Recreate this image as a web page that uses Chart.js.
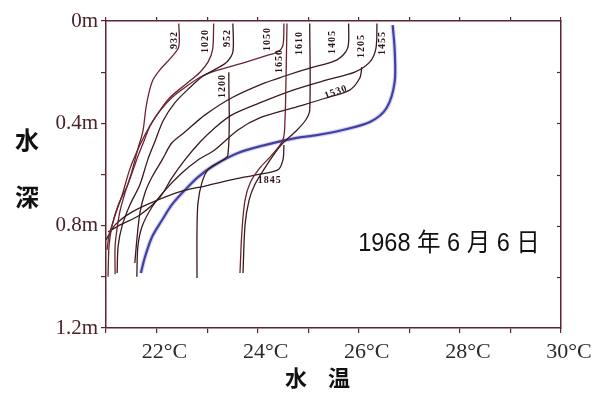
<!DOCTYPE html>
<html lang="ja">
<head>
<meta charset="UTF-8">
<script src="https://cdn.jsdelivr.net/npm/chart.js"></script>
<title>水温</title>
<style>body{margin:0;background:#fff}</style>
</head>
<body>
<canvas id="suion" width="600" height="416"></canvas>
<script>
// 1968年6月6日 各時刻の水温(℃)と水深(m)
const t0932 = [22.44,22.44,22.30,22.07,21.93,21.85,21.79,21.73,21.63,21.51,21.38,21.28,21.22,21.18,21.18];
const d0932 = [0.01,0.10,0.14,0.19,0.23,0.28,0.34,0.43,0.50,0.59,0.67,0.74,0.81,0.88,0.99];
const t1020 = [23.13,23.11,23.02,22.86,22.56,22.26,22.03,21.87,21.75,21.61,21.43,21.24,21.12,21.06,21.04];
const d1020 = [0.01,0.11,0.16,0.20,0.25,0.30,0.36,0.41,0.47,0.54,0.64,0.72,0.80,0.88,1.00];
const t0952 = [23.51,23.51,23.39,23.15,22.92,22.66,22.36,22.13,21.97,21.83,21.67,21.47,21.32,21.24,21.22];
const d0952 = [0.01,0.12,0.16,0.19,0.215,0.26,0.32,0.39,0.47,0.54,0.64,0.72,0.80,0.88,0.985];
const t1050 = [24.52,24.50,24.40,24.14,23.61,23.09,22.86,22.56,22.30,22.07,21.87,21.67,21.47,21.32,21.18,21.06,21.02];
const d1050 = [0.01,0.094,0.12,0.137,0.17,0.20,0.22,0.26,0.30,0.35,0.41,0.485,0.58,0.68,0.76,0.84,0.895];
const t1200 = [23.43,23.41,23.21,23.02,22.90,22.82,22.80,22.80];
const d1200 = [0.20,0.524,0.555,0.58,0.63,0.71,0.82,1.005];
const t1650 = [24.58,24.56,24.54,24.50,24.28,24.04,23.85,23.75,23.69,23.65];
const d1650 = [0.01,0.23,0.39,0.465,0.524,0.575,0.633,0.70,0.817,0.985];
const t1610 = [25.03,25.03,24.95,24.76,24.50,24.34,24.14,23.94,23.83,23.75,23.71];
const d1610 = [0.01,0.348,0.387,0.43,0.477,0.516,0.575,0.641,0.70,0.797,0.985];
const t1405 = [25.80,25.78,25.57,25.03,24.54,24.14,23.49,22.96,22.56,22.30,22.11,21.91,21.77,21.67,21.61,21.57];
const d1405 = [0.01,0.106,0.152,0.184,0.215,0.242,0.30,0.367,0.434,0.477,0.543,0.61,0.672,0.751,0.856,0.946];
const t1205 = [26.36,26.34,26.22,25.92,25.37,24.70,24.04,23.49,23.15,22.86,22.56,22.30,22.07,21.67,21.28,21.04];
const d1205 = [0.01,0.106,0.16,0.20,0.23,0.27,0.32,0.367,0.418,0.473,0.543,0.614,0.688,0.758,0.797,0.825];
const t1530 = [26.06,26.02,25.82,25.37,24.70,24.04,23.61,23.15,22.82,22.50,22.17,21.91,21.71,21.63,21.61];
const d1530 = [0.18,0.223,0.27,0.30,0.34,0.379,0.426,0.504,0.543,0.594,0.661,0.727,0.805,0.883,1.00];
const t1845 = [24.52,24.50,24.40,23.94,23.45,22.96,22.50,21.97,21.51,21.18,21.00];
const d1845 = [0.485,0.543,0.582,0.602,0.622,0.645,0.665,0.704,0.747,0.797,0.856];
const t1455 = [26.67,26.71,26.71,26.55,26.22,25.68,25.17,24.77,24.14,23.61,23.15,22.82,22.56,22.30,22.11,21.91,21.77,21.69];
const d1455 = [0.016,0.113,0.238,0.340,0.395,0.426,0.446,0.457,0.485,0.516,0.563,0.610,0.661,0.719,0.778,0.844,0.923,0.985];

// 曲線に添える時刻ラベル
const jikan  = ['932','1020','952','1050','1650','1610','1405','1205','1455','1200','1530','1845'];
const labelT = [22.36,22.96,23.41,24.20,24.44,24.83,25.47,26.06,26.47,23.31,25.55,24.24];
const labelD = [0.074,0.078,0.066,0.07,0.156,0.086,0.082,0.098,0.086,0.254,0.278,0.622];
const labelRot = [-90,-90,-90,-90,-90,-90,-90,-90,-90,-90,-20,0];

const jikuIro = '#5a2630';
const senIro = '#3a1a1e';
const akaIro = '#6a2430';

function pts(t, d) {
    return t.map((v, i) => ({x: v, y: d[i]}));
}
function sen(name, t, d, color, w) {
    return {label: name, data: pts(t, d), borderColor: color, borderWidth: w || 1.3,
            pointRadius: 0, tension: 0.3, fill: false};
}

const datasets = [
    sen('932', t0932, d0932, akaIro),
    sen('1020', t1020, d1020, akaIro),
    sen('952', t0952, d0952, senIro),
    sen('1050', t1050, d1050, akaIro),
    sen('1200', t1200, d1200, senIro),
    sen('1650', t1650, d1650, akaIro),
    sen('1610', t1610, d1610, senIro),
    sen('1405', t1405, d1405, senIro),
    sen('1205', t1205, d1205, senIro),
    sen('1530', t1530, d1530, senIro),
    sen('1845', t1845, d1845, senIro),
    sen('1455 halo', t1455, d1455, 'rgba(120,120,220,0.3)', 4.5),
    sen('1455', t1455, d1455, '#2c2a88', 2.2)
];

const kakikomi = {
    id: 'kakikomi',
    afterDraw(chart) {
        const {ctx, scales: {x, y}, chartArea: a} = chart;
        ctx.save();
        // 右軸の内向き目盛り
        ctx.strokeStyle = jikuIro;
        ctx.lineWidth = 1.2;
        for (let v = 0.2; v < 1.2; v += 0.2) {
            const py = Math.round(y.getPixelForValue(v)) + 0.5;
            ctx.beginPath();
            ctx.moveTo(a.right, py);
            ctx.lineTo(a.right - 4, py);
            ctx.stroke();
        }
        // 時刻ラベル
        ctx.fillStyle = '#2a1418';
        ctx.font = 'bold 10px "Liberation Serif"';
        ctx.letterSpacing = '1px';
        ctx.textAlign = 'center';
        ctx.textBaseline = 'middle';
        jikan.forEach((s, i) => {
            ctx.save();
            ctx.translate(x.getPixelForValue(labelT[i]), y.getPixelForValue(labelD[i]));
            ctx.rotate(labelRot[i] * Math.PI / 180);
            ctx.fillText(s, 0, 0);
            ctx.restore();
        });
        ctx.letterSpacing = '0px';
        // 軸タイトル
        ctx.fillStyle = '#111';
        ctx.font = 'bold 24px "Noto Sans CJK JP"';
        ctx.fillText('水', 27, 140);
        ctx.fillText('深', 27, 197);
        ctx.font = 'bold 22px "Noto Sans CJK JP"';
        ctx.fillText('水', 296, 378);
        ctx.fillText('温', 339, 378);
        // 日付
        ctx.translate(449, 244);
        ctx.scale(0.94, 1);
        ctx.font = '25px "Liberation Sans", "Noto Sans CJK JP"';
        ctx.fillText('1968 年 6 月 6 日', 0, 0);
        ctx.restore();
    }
};

new Chart(document.getElementById('suion'), {
    type: 'line',
    data: {datasets: datasets},
    options: {
        responsive: false,
        animation: false,
        events: [],
        layout: {padding: 0},
        plugins: {legend: {display: false}, tooltip: {enabled: false}},
        scales: {
            x: {
                type: 'linear', position: 'bottom', min: 21, max: 30,
                afterFit: s => { s.height = 88; },
                ticks: {
                    stepSize: 1, autoSkip: false, maxRotation: 0, labelOffset: 8, padding: 6,
                    color: '#2a2a2a', font: {family: 'Liberation Serif', size: 22},
                    callback: v => (v % 2 === 0 && v > 21) ? v + '°C' : ''
                },
                grid: {drawOnChartArea: false, tickLength: 5, color: jikuIro, lineWidth: 1.2},
                border: {color: jikuIro, width: 1.5}
            },
            x2: {
                type: 'linear', position: 'top', min: 21, max: 30,
                afterFit: s => { s.height = 21; },
                ticks: {stepSize: 1, display: false},
                grid: {drawOnChartArea: false, tickLength: 4, color: jikuIro, lineWidth: 1.2},
                border: {color: jikuIro, width: 1.5}
            },
            y: {
                type: 'linear', position: 'left', min: 0, max: 1.2, reverse: true,
                afterFit: s => { s.width = 106; },
                ticks: {
                    stepSize: 0.2, autoSkip: false, padding: 3,
                    color: '#4a2228', font: {family: 'Liberation Serif', size: 21},
                    callback: v => {
                        const k = Math.round(v * 10);
                        if (k % 4 !== 0) return '';
                        return k === 0 ? '0m' : (k / 10) + 'm';
                    }
                },
                grid: {drawOnChartArea: false, tickLength: 5, color: jikuIro, lineWidth: 1.2},
                border: {color: jikuIro, width: 1.5}
            },
            y2: {
                type: 'linear', position: 'right', min: 0, max: 1.2, reverse: true,
                afterFit: s => { s.width = 39; },
                ticks: {display: false, stepSize: 0.2},
                grid: {drawOnChartArea: false, drawTicks: false, color: jikuIro},
                border: {color: jikuIro, width: 1.5}
            }
        }
    },
    plugins: [kakikomi]
});
</script>
</body>
</html>
